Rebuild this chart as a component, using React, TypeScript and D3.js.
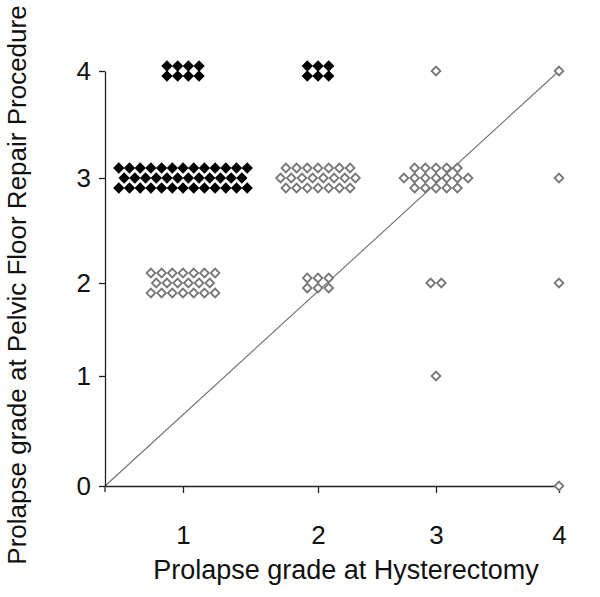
import React, { useEffect, useRef } from "react";
import * as d3 from "d3";

// grade at hysterectomy (x) and at the later pelvic floor repair (y) for each group
const hystGrade = [1, 1, 1, 2, 2, 2, 3, 3, 3, 3, 4, 4, 4, 4];
const repairGrade = [4, 3, 2, 4, 3, 2, 4, 3, 2, 1, 4, 3, 2, 0];
// patients per group, given as rows of the dot cluster
const groupRows = [
  [4, 4],
  [13, 12, 13],
  [7, 6, 7],
  [3, 3],
  [7, 8, 7],
  [3, 3],
  [1],
  [5, 7, 5],
  [2],
  [1],
  [1],
  [1],
  [1],
  [1],
];
// black = prolapse grade worse at repair
const worse = [true, true, false, true, false, false, false, false, false, false, false, false, false, false];

const xTicks = [1, 2, 3, 4];
const yTicks = [0, 1, 2, 3, 4];
const xMin = 0.42;

const App = () => {
  const svgRef = useRef<SVGSVGElement | null>(null);

  useEffect(() => {
    const width = 600;
    const height = 597;
    const font = "Arial, 'Liberation Sans', sans-serif";

    const svg = d3.select(svgRef.current).attr("width", width).attr("height", height);
    svg.selectAll("*").remove();

    // the original figure is not evenly spaced, so use a piecewise scale
    const x = d3.scaleLinear().domain([xMin, 1, 2, 3, 4]).range([105, 183, 318, 436, 559]);
    const y = d3.scaleLinear().domain([0, 1, 2, 3, 4]).range([486, 376, 283, 178, 71]);

    // points: each group spread out in rows around its grid position
    const dx = 10.7;
    const dy = 10;
    const points: { px: number; py: number; filled: boolean }[] = [];
    hystGrade.forEach((g, i) => {
      const rows = groupRows[i];
      rows.forEach((n, r) => {
        const rowOff = (r - (rows.length - 1) / 2) * dy;
        for (let k = 0; k < n; k++) {
          points.push({
            px: x(g) + (k - (n - 1) / 2) * dx,
            py: y(repairGrade[i]) + rowOff,
            filled: worse[i],
          });
        }
      });
    });

    // diagonal reference line
    svg.append("line")
      .attr("x1", x(xMin))
      .attr("y1", y(0))
      .attr("x2", x(4))
      .attr("y2", y(4))
      .attr("stroke", "#6e6e6e")
      .attr("stroke-width", 1.1);

    // X axis
    const gx = svg.append("g")
      .attr("transform", `translate(0,${y(0)})`)
      .call(d3.axisBottom(x).tickValues(xTicks).tickSize(7).tickSizeOuter(0).tickPadding(33).tickFormat(d3.format("d")));
    gx.select(".domain").attr("stroke", "#222").attr("stroke-width", 1.3);
    gx.selectAll(".tick line").attr("stroke", "#222").attr("stroke-width", 1.3);
    gx.selectAll("text").attr("font-family", font).attr("font-size", 26).attr("fill", "#111");

    // Y axis
    const gy = svg.append("g")
      .attr("transform", `translate(${x(xMin)},0)`)
      .call(d3.axisLeft(y).tickValues(yTicks).tickSize(6).tickSizeOuter(0).tickPadding(8).tickFormat(d3.format("d")));
    gy.select(".domain").attr("stroke", "#222").attr("stroke-width", 1.3);
    gy.selectAll(".tick line").attr("stroke", "#222").attr("stroke-width", 1.3);
    gy.selectAll("text").attr("font-family", font).attr("font-size", 26).attr("fill", "#111");
    // small overhang of the y axis below the origin
    svg.append("line")
      .attr("x1", x(xMin)).attr("x2", x(xMin))
      .attr("y1", y(0)).attr("y2", y(0) + 6)
      .attr("stroke", "#222").attr("stroke-width", 1.3);

    // diamonds
    const filledSym = d3.symbol().type(d3.symbolSquare).size(64)();
    const openSym = d3.symbol().type(d3.symbolSquare).size(38)();
    svg.append("g")
      .selectAll("path")
      .data(points)
      .enter()
      .append("path")
      .attr("d", (d) => (d.filled ? filledSym : openSym))
      .attr("transform", (d) => `translate(${d.px},${d.py}) rotate(45)`)
      .attr("fill", (d) => (d.filled ? "#000" : "#fff"))
      .attr("stroke", (d) => (d.filled ? "none" : "#777"))
      .attr("stroke-width", 1.8);

    // axis titles
    svg.append("text")
      .attr("x", 346)
      .attr("y", 579)
      .attr("text-anchor", "middle")
      .attr("font-family", font)
      .attr("font-size", 27)
      .attr("fill", "#111")
      .text("Prolapse grade at Hysterectomy");

    svg.append("text")
      .attr("transform", "translate(26,285) rotate(-90)")
      .attr("text-anchor", "middle")
      .attr("font-family", font)
      .attr("font-size", 26)
      .attr("fill", "#111")
      .text("Prolapse grade at Pelvic Floor Repair Procedure");
  }, []);

  return (
    <div>
      <svg ref={svgRef} style={{ position: "absolute", left: 0, top: 0, background: "#fff" }}></svg>
    </div>
  );
};

export default App;
